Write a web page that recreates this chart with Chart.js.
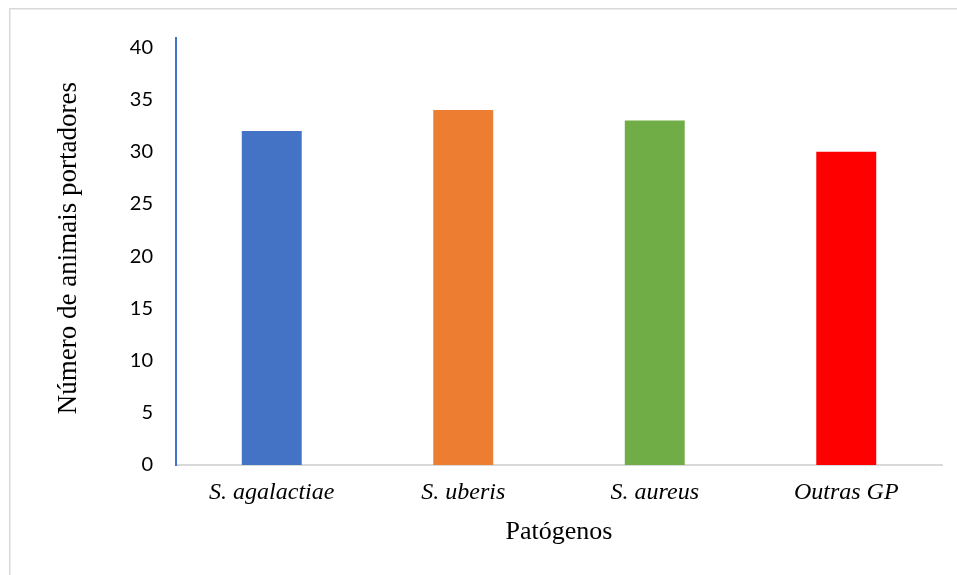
<!DOCTYPE html>
<html>
<head>
<meta charset="utf-8">
<script src="https://cdn.jsdelivr.net/npm/chart.js@4/dist/chart.umd.min.js"></script>
<style>
  html, body { margin: 0; padding: 0; background: #fff; }
  #wrap { position: relative; width: 957px; height: 575px; }
</style>
</head>
<body>
<div id="wrap"><canvas id="c" width="957" height="575"></canvas></div>
<script>
// Pathogens and number of carrier animals per pathogen
const categories = ['S. agalactiae', 'S. uberis', 'S. aureus', 'Outras GP'];
const carriers = [32, 34, 33, 30];
const barColors = ['#4472C4', '#ED7D31', '#70AD47', '#FF0000'];
const yTicks = [0, 5, 10, 15, 20, 25, 30, 35, 40];

// Light grey frame along the top and left edges
const framePlugin = {
  id: 'frame',
  beforeDraw(chart) {
    const ctx = chart.ctx;
    ctx.save();
    ctx.strokeStyle = '#d9d9d9';
    ctx.lineWidth = 1.5;
    ctx.beginPath();
    ctx.moveTo(9.75, chart.height);
    ctx.lineTo(9.75, 8.75);
    ctx.lineTo(chart.width, 8.75);
    ctx.stroke();
    ctx.restore();
  }
};

new Chart(document.getElementById('c'), {
  type: 'bar',
  data: {
    labels: categories,
    datasets: [{
      data: carriers,
      backgroundColor: barColors,
      borderWidth: 0,
      categoryPercentage: 1,
      barPercentage: 0.313
    }]
  },
  options: {
    responsive: false,
    animation: false,
    layout: { padding: { left: 0, right: 15, top: 38, bottom: 0 } },
    plugins: {
      legend: { display: false },
      tooltip: { enabled: false }
    },
    scales: {
      x: {
        grid: { display: false, drawTicks: false },
        border: { display: true, color: '#d9d9d9', width: 2 },
        ticks: {
          color: '#000',
          padding: 13,
          maxRotation: 0,
          font: { family: '"Liberation Serif", "Times New Roman", serif', size: 24, style: 'italic' }
        },
        title: {
          display: true,
          text: 'Patógenos',
          color: '#000',
          padding: { top: 0, bottom: 27 },
          font: { family: '"Liberation Serif", "Times New Roman", serif', size: 26 }
        },
        afterFit(scale) { scale.height = 110; }
      },
      y: {
        min: 0,
        max: 40.9,
        grid: { display: false, drawTicks: false },
        border: { display: true, color: '#4472C4', width: 2 },
        ticks: {
          color: '#000',
          padding: 23,
          font: { family: 'Lato, "Open Sans", sans-serif', size: 20 }
        },
        afterBuildTicks(scale) {
          scale.ticks = yTicks.map(v => ({ value: v }));
        },
        title: {
          display: true,
          text: '\u00A0Número de animais portadores',
          color: '#000',
          padding: { top: 53, bottom: 0 },
          font: { family: '"Liberation Serif", "Times New Roman", serif', size: 27 }
        },
        afterFit(scale) { scale.width = 176; }
      }
    }
  },
  plugins: [framePlugin]
});
</script>
</body>
</html>
